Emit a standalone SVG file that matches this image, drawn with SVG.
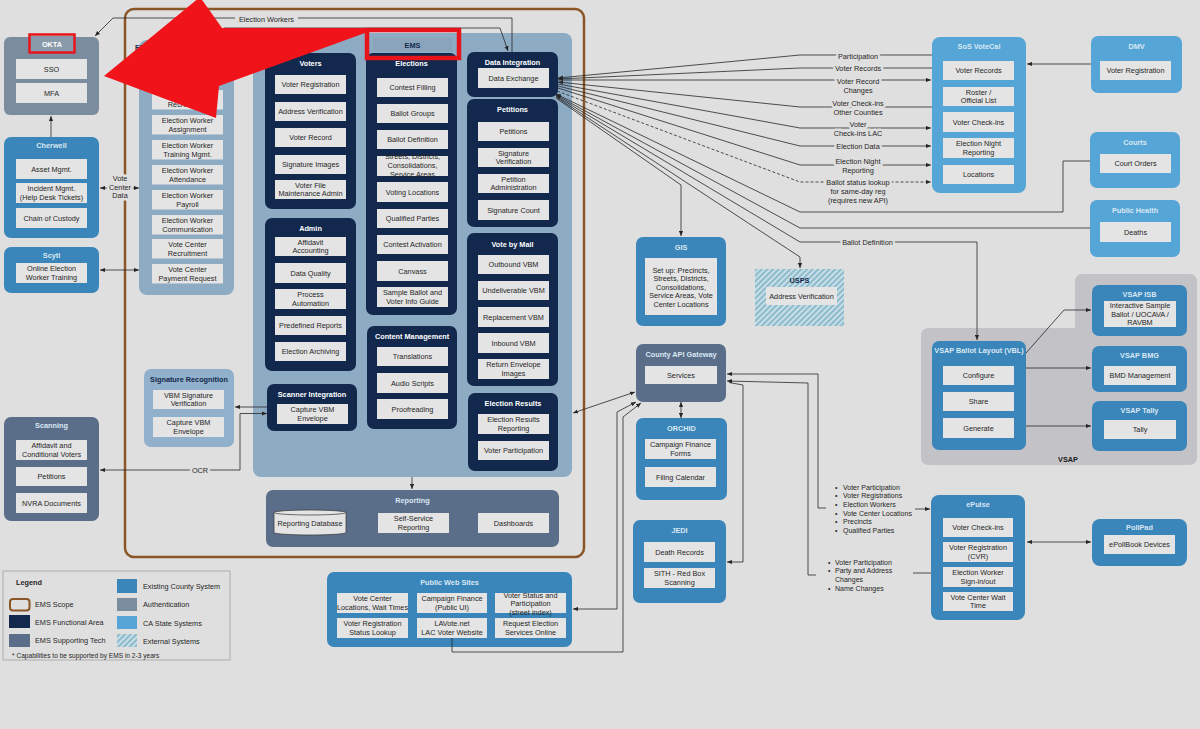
<svg xmlns="http://www.w3.org/2000/svg" width="1200" height="729" viewBox="0 0 1200 729">
<style>
text{font-family:"Liberation Sans",Arial,Helvetica,sans-serif;font-size:7.3px;fill:#262626;text-anchor:middle}
.h{font-weight:bold;fill:#ffffff}
.hl{font-weight:bold;fill:#d9e8f4}
.hd{font-weight:bold;fill:#13294b}
.st{text-anchor:start}
.b{fill:#e4e4e4}
.nv{fill:#12294d}
.cty{fill:#3a85b9}
.ca{fill:#55a5d6}
.au{fill:#7a8c9d}
.sup{fill:#5b6e89}
.ems{fill:#8eabc4}
.ln{stroke:#262626;stroke-width:0.8;fill:none}
.cl{stroke:#dfdfdf;stroke-width:5px;stroke-linejoin:round;paint-order:stroke}
.li{font-size:7px;text-anchor:start}
</style>
<defs>
<marker id="a" viewBox="0 0 6 6" refX="6" refY="3" markerWidth="5" markerHeight="5" orient="auto-start-reverse" markerUnits="userSpaceOnUse"><path d="M0,0.5 L6,3 L0,5.5z" fill="#262626"/></marker>
<pattern id="hatch" width="4" height="4" patternUnits="userSpaceOnUse" patternTransform="rotate(45)"><rect width="4" height="4" fill="#c9dee6"/><line x1="1" y1="0" x2="1" y2="4" stroke="#6aa9bf" stroke-width="1.3"/></pattern>
</defs>
<rect width="1200" height="729" fill="#dfdfdf"/>

<g id="ems-scope"><rect x="125" y="9" width="459" height="548" rx="9" fill="none" stroke="#8a5527" stroke-width="2.5"/></g>

<g id="election-workers">
<rect x="139" y="40" width="95" height="255" rx="8" class="ems"/>
<text x="135" y="50" class="hd st">Election Workers</text>
<rect x="152" y="90" width="71" height="19.5" class="b"/><text x="187.5" y="98">Election Worker<tspan x="187.5" dy="8.7">Recruitment</tspan></text>
<rect x="152" y="115" width="71" height="19.5" class="b"/><text x="187.5" y="123">Election Worker<tspan x="187.5" dy="8.7">Assignment</tspan></text>
<rect x="152" y="140" width="71" height="19.5" class="b"/><text x="187.5" y="148">Election Worker<tspan x="187.5" dy="8.7">Training Mgmt.</tspan></text>
<rect x="152" y="165" width="71" height="19.5" class="b"/><text x="187.5" y="173">Election Worker<tspan x="187.5" dy="8.7">Attendance</tspan></text>
<rect x="152" y="190" width="71" height="19.5" class="b"/><text x="187.5" y="198">Election Worker<tspan x="187.5" dy="8.7">Payroll</tspan></text>
<rect x="152" y="215" width="71" height="19.5" class="b"/><text x="187.5" y="223">Election Worker<tspan x="187.5" dy="8.7">Communication</tspan></text>
<rect x="152" y="239" width="71" height="19.5" class="b"/><text x="187.5" y="247">Vote Center<tspan x="187.5" dy="8.7">Recruitment</tspan></text>
<rect x="152" y="264" width="71" height="19.5" class="b"/><text x="187.5" y="272">Vote Center<tspan x="187.5" dy="8.7">Payment Request</tspan></text>
</g>

<g id="ems">
<rect x="253" y="33" width="319" height="444" rx="8" class="ems"/>
<rect x="373" y="38" width="79" height="13" fill="#8aa4bc"/>
<text x="412.5" y="47.5" class="hd">EMS</text>
</g>

<g id="voters">
<rect x="265" y="53" width="91" height="156" rx="7" class="nv"/>
<text x="310.5" y="65.5" class="h">Voters</text>
<rect x="275" y="75" width="71" height="19" class="b"/><text x="310.5" y="87.1">Voter Registration</text>
<rect x="275" y="102" width="71" height="19" class="b"/><text x="310.5" y="114.1">Address Verification</text>
<rect x="275" y="128" width="71" height="19" class="b"/><text x="310.5" y="140.1">Voter Record</text>
<rect x="275" y="155" width="71" height="19" class="b"/><text x="310.5" y="167.1">Signature Images</text>
<rect x="275" y="180" width="71" height="19" class="b"/><text x="310.5" y="187.8">Voter File<tspan x="310.5" dy="8.6">Maintenance Admin</tspan></text>
</g>

<g id="admin">
<rect x="265" y="218" width="91" height="153" rx="7" class="nv"/>
<text x="310.5" y="231" class="h">Admin</text>
<rect x="275" y="237" width="71" height="19" class="b"/><text x="310.5" y="244.8">Affidavit<tspan x="310.5" dy="8.6">Accounting</tspan></text>
<rect x="275" y="263" width="71" height="20" class="b"/><text x="310.5" y="275.6">Data Quality</text>
<rect x="275" y="289" width="71" height="20" class="b"/><text x="310.5" y="297.3">Process<tspan x="310.5" dy="8.6">Automation</tspan></text>
<rect x="275" y="316" width="71" height="19" class="b"/><text x="310.5" y="328.1">Predefined Reports</text>
<rect x="275" y="342" width="71" height="19" class="b"/><text x="310.5" y="354.1">Election Archiving</text>
</g>

<g id="scanner-integration">
<rect x="267" y="384" width="90" height="47" rx="7" class="nv"/>
<text x="312" y="397" class="h">Scanner Integration</text>
<rect x="277" y="404" width="71" height="20" class="b"/><text x="312.5" y="412.3">Capture VBM<tspan x="312.5" dy="8.6">Envelope</tspan></text>
</g>

<g id="elections">
<rect x="366" y="53" width="91" height="262" rx="7" class="nv"/>
<text x="411.5" y="65.5" class="h">Elections</text>
<rect x="377" y="78" width="71" height="19" class="b"/><text x="412.5" y="90.1">Contest Filling</text>
<rect x="377" y="104" width="71" height="19" class="b"/><text x="412.5" y="116.1">Ballot Groups</text>
<rect x="377" y="130" width="71" height="19" class="b"/><text x="412.5" y="142.1">Ballot Definition</text>
<rect x="377" y="156" width="71" height="20" class="b"/><text x="412.5" y="159.3">Streets, Districts,<tspan x="412.5" dy="9">Consolidations,</tspan><tspan x="412.5" dy="9">Service Areas</tspan></text>
<rect x="377" y="182" width="71" height="20" class="b"/><text x="412.5" y="194.6">Voting Locations</text>
<rect x="377" y="209" width="71" height="19" class="b"/><text x="412.5" y="221.1">Qualified Parties</text>
<rect x="377" y="235" width="71" height="19" class="b"/><text x="412.5" y="247.1">Contest Activation</text>
<rect x="377" y="261" width="71" height="20" class="b"/><text x="412.5" y="273.6">Canvass</text>
<rect x="377" y="287" width="71" height="20" class="b"/><text x="412.5" y="295.3">Sample Ballot and<tspan x="412.5" dy="8.6">Voter Info Guide</tspan></text>
</g>

<g id="content-management">
<rect x="367" y="326" width="90" height="103" rx="7" class="nv"/>
<text x="412" y="338.5" class="h">Content Management</text>
<rect x="377" y="347" width="71" height="19" class="b"/><text x="412.5" y="359.1">Translations</text>
<rect x="377" y="373" width="71" height="20" class="b"/><text x="412.5" y="385.6">Audio Scripts</text>
<rect x="377" y="399" width="71" height="20" class="b"/><text x="412.5" y="411.6">Proofreading</text>
</g>

<g id="data-integration">
<rect x="467" y="52" width="91" height="45" rx="7" class="nv"/>
<text x="512.5" y="64.5" class="h">Data Integration</text>
<rect x="478" y="68" width="71" height="20" class="b"/><text x="513.5" y="80.6">Data Exchange</text>
</g>

<g id="petitions">
<rect x="467" y="99" width="91" height="128" rx="7" class="nv"/>
<text x="512.5" y="111.5" class="h">Petitions</text>
<rect x="478" y="122" width="71" height="19" class="b"/><text x="513.5" y="134.1">Petitions</text>
<rect x="478" y="148" width="71" height="19" class="b"/><text x="513.5" y="155.8">Signature<tspan x="513.5" dy="8.6">Verification</tspan></text>
<rect x="478" y="174" width="71" height="19" class="b"/><text x="513.5" y="181.8">Petition<tspan x="513.5" dy="8.6">Administration</tspan></text>
<rect x="478" y="200" width="71" height="20" class="b"/><text x="513.5" y="212.6">Signature Count</text>
</g>

<g id="vote-by-mail">
<rect x="467" y="233" width="91" height="153" rx="7" class="nv"/>
<text x="512.5" y="246.5" class="h">Vote by Mail</text>
<rect x="478" y="255" width="71" height="19" class="b"/><text x="513.5" y="267.1">Outbound VBM</text>
<rect x="478" y="281" width="71" height="19" class="b"/><text x="513.5" y="293.1">Undeliverable VBM</text>
<rect x="478" y="307" width="71" height="20" class="b"/><text x="513.5" y="319.6">Replacement VBM</text>
<rect x="478" y="333" width="71" height="20" class="b"/><text x="513.5" y="345.6">Inbound VBM</text>
<rect x="478" y="359" width="71" height="20" class="b"/><text x="513.5" y="367.3">Return Envelope<tspan x="513.5" dy="8.6">Images</tspan></text>
</g>

<g id="election-results">
<rect x="468" y="393" width="90" height="78" rx="7" class="nv"/>
<text x="513" y="406" class="h">Election Results</text>
<rect x="478" y="414" width="71" height="20" class="b"/><text x="513.5" y="422.3">Election Results<tspan x="513.5" dy="8.6">Reporting</tspan></text>
<rect x="478" y="441" width="71" height="19" class="b"/><text x="513.5" y="453.1">Voter Participation</text>
</g>

<g id="reporting">
<rect x="266" y="490" width="293" height="57" rx="7" class="sup"/>
<text x="412.5" y="502.5" class="hl">Reporting</text>
<path d="M274,512.5 V532.5 A36,2.5 0 0 0 346,532.5 V512.5 A36,2.5 0 0 0 274,512.5 Z" fill="#e4e4e4" stroke="#333" stroke-width="0.7"/>
<path d="M274,512.5 A36,2.5 0 0 0 346,512.5" fill="none" stroke="#333" stroke-width="0.7"/>
<text x="310" y="526">Reporting Database</text>
<rect x="378" y="513" width="71" height="20" class="b"/><text x="413.5" y="521.3">Self-Service<tspan x="413.5" dy="8.6">Reporting</tspan></text>
<rect x="478" y="513" width="71" height="20" class="b"/><text x="513.5" y="525.6">Dashboards</text>
</g>

<g id="okta">
<rect x="4" y="37" width="95" height="78" rx="6" class="au"/>
<rect x="30" y="36" width="44" height="16" fill="#899bab"/>
<text x="52" y="47" class="h">OKTA</text>
<rect x="16" y="59" width="71" height="20" class="b"/><text x="51.5" y="71.6">SSO</text>
<rect x="16" y="83" width="71" height="20" class="b"/><text x="51.5" y="95.6">MFA</text>
</g>

<g id="cherwell">
<rect x="4" y="137" width="95" height="101" rx="7" class="cty"/>
<text x="51.5" y="148" class="hl">Cherwell</text>
<rect x="16" y="159" width="71" height="20" class="b"/><text x="51.5" y="171.6">Asset Mgmt.</text>
<rect x="16" y="183" width="71" height="20" class="b"/><text x="51.5" y="191.3">Incident Mgmt.<tspan x="51.5" dy="8.6">(Help Desk Tickets)</tspan></text>
<rect x="16" y="208" width="71" height="20" class="b"/><text x="51.5" y="220.6">Chain of Custody</text>
</g>

<g id="scytl">
<rect x="4" y="247" width="95" height="46" rx="7" class="cty"/>
<text x="51.5" y="258" class="hl">Scytl</text>
<rect x="16" y="263" width="71" height="20" class="b"/><text x="51.5" y="271.3">Online Election<tspan x="51.5" dy="8.6">Worker Training</tspan></text>
</g>

<g id="signature-recognition">
<rect x="144" y="369" width="90" height="78" rx="7" fill="#90b0cc"/>
<text x="189" y="381.5" class="hd">Signature Recognition</text>
<rect x="153" y="390" width="71" height="19" class="b"/><text x="188.5" y="397.8">VBM Signature<tspan x="188.5" dy="8.6">Verification</tspan></text>
<rect x="153" y="417" width="71" height="20" class="b"/><text x="188.5" y="425.3">Capture VBM<tspan x="188.5" dy="8.6">Envelope</tspan></text>
</g>

<g id="scanning">
<rect x="4" y="417" width="95" height="104" rx="7" class="sup"/>
<text x="51.5" y="428" class="hl">Scanning</text>
<rect x="16" y="440" width="71" height="20" class="b"/><text x="51.5" y="448.3">Affidavit and<tspan x="51.5" dy="8.6">Conditional Voters</tspan></text>
<rect x="16" y="467" width="71" height="19" class="b"/><text x="51.5" y="479.1">Petitions</text>
<rect x="16" y="493" width="71" height="20" class="b"/><text x="51.5" y="505.6">NVRA Documents</text>
</g>

<g id="legend">
<rect x="3" y="571" width="227" height="89" fill="none" stroke="#a0a0a0" stroke-width="0.8"/>
<text x="16" y="585.3" class="st" style="font-weight:bold">Legend</text>
<rect x="10" y="599" width="19.5" height="11.5" rx="3" fill="none" stroke="#8a5527" stroke-width="2"/>
<text x="35" y="607.3" class="st">EMS Scope</text>
<rect x="9" y="615" width="21" height="13" class="nv"/>
<text x="35" y="624.6" class="st">EMS Functional Area</text>
<rect x="9" y="634" width="21" height="13" class="sup"/>
<text x="35" y="643" class="st">EMS Supporting Tech</text>
<rect x="117" y="579" width="20" height="14" class="cty"/>
<text x="143" y="589.3" class="st">Existing County System</text>
<rect x="117" y="598" width="20" height="13" class="au"/>
<text x="143" y="607.3" class="st">Authentication</text>
<rect x="117" y="616" width="20" height="13" class="ca"/>
<text x="143" y="626.3" class="st">CA State Systems</text>
<rect x="117" y="634" width="20" height="13" fill="url(#hatch)"/>
<text x="143" y="643.6" class="st">External Systems</text>
<text x="12" y="657.5" class="st" style="font-size:6.6px">* Capabilities to be supported by EMS in 2-3 years</text>
</g>

<g id="gis">
<rect x="636" y="237" width="90" height="89" rx="7" class="cty"/>
<text x="681" y="249.5" class="hl">GIS</text>
<rect x="645" y="258" width="72" height="57" class="b"/>
<text x="681" y="272.5">Set up: Precincts,<tspan x="681" dy="8.5">Streets, Districts,</tspan><tspan x="681" dy="8.5">Consolidations,</tspan><tspan x="681" dy="8.5">Service Areas, Vote</tspan><tspan x="681" dy="8.5">Center Locations</tspan></text>
</g>

<g id="usps">
<rect x="755" y="269" width="89" height="57" fill="url(#hatch)"/>
<text x="799.5" y="282.5" class="hd">USPS</text>
<rect x="766" y="287" width="71" height="18" class="b"/><text x="801.5" y="298.6">Address Verification</text>
</g>

<g id="county-api-gateway">
<rect x="636" y="344" width="90" height="58" rx="7" class="sup"/>
<text x="681" y="356.5" class="hl">County API Gateway</text>
<rect x="645" y="366" width="72" height="18" class="b"/><text x="681" y="377.6">Services</text>
</g>

<g id="orchid">
<rect x="636" y="418" width="91" height="82" rx="7" class="cty"/>
<text x="681.5" y="430.5" class="hl">ORCHID</text>
<rect x="645" y="439" width="71" height="20" class="b"/><text x="680.5" y="447.3">Campaign Finance<tspan x="680.5" dy="8.6">Forms</tspan></text>
<rect x="645" y="467" width="71" height="20" class="b"/><text x="680.5" y="479.6">Filing Calendar</text>
</g>

<g id="jedi">
<rect x="633" y="520" width="93" height="83" rx="7" class="cty"/>
<text x="679.5" y="532.5" class="hl">JEDI</text>
<rect x="644" y="542" width="71" height="20" class="b"/><text x="679.5" y="554.6">Death Records</text>
<rect x="644" y="568" width="71" height="20" class="b"/><text x="679.5" y="576.3">SITH - Red Box<tspan x="679.5" dy="8.6">Scanning</tspan></text>
</g>

<g id="public-web-sites">
<rect x="327" y="572" width="245" height="75" rx="7" class="cty"/>
<text x="449.5" y="584.5" class="hl">Public Web Sites</text>
<rect x="337" y="593" width="71" height="20" class="b"/><text x="372.5" y="601.3">Vote Center<tspan x="372.5" dy="8.6">Locations, Wait Times</tspan></text>
<rect x="417" y="593" width="70" height="20" class="b"/><text x="452" y="601.3">Campaign Finance<tspan x="452" dy="8.6">(Public UI)</tspan></text>
<rect x="495" y="593" width="71" height="20" class="b"/><text x="530.5" y="597.6">Voter Status and<tspan x="530.5" dy="8.8">Participation</tspan><tspan x="530.5" dy="8.8">(street index)</tspan></text>
<rect x="337" y="618" width="71" height="20" class="b"/><text x="372.5" y="626.3">Voter Registration<tspan x="372.5" dy="8.6">Status Lookup</tspan></text>
<rect x="417" y="618" width="70" height="20" class="b"/><text x="452" y="626.3">LAVote.net<tspan x="452" dy="8.6">LAC Voter Website</tspan></text>
<rect x="495" y="618" width="71" height="20" class="b"/><text x="530.5" y="626.3">Request Election<tspan x="530.5" dy="8.6">Services Online</tspan></text>
</g>

<g id="sos-votecal">
<rect x="932" y="37" width="94" height="156" rx="8" class="ca"/>
<text x="979" y="48.5" class="hl">SoS VoteCal</text>
<rect x="943" y="61" width="71" height="19" class="b"/><text x="978.5" y="73.1">Voter Records</text>
<rect x="943" y="87" width="71" height="19" class="b"/><text x="978.5" y="94.8">Roster /<tspan x="978.5" dy="8.6">Official List</tspan></text>
<rect x="943" y="112" width="71" height="20" class="b"/><text x="978.5" y="124.6">Voter Check-ins</text>
<rect x="943" y="138" width="71" height="20" class="b"/><text x="978.5" y="146.3">Election Night<tspan x="978.5" dy="8.6">Reporting</tspan></text>
<rect x="943" y="165" width="71" height="19" class="b"/><text x="978.5" y="177.1">Locations</text>
</g>

<g id="dmv">
<rect x="1091" y="36" width="91" height="57" rx="7" class="ca"/>
<text x="1136.5" y="49" class="hl">DMV</text>
<rect x="1100" y="61" width="71" height="19" class="b"/><text x="1135.5" y="73.1">Voter Registration</text>
</g>

<g id="courts">
<rect x="1090" y="132" width="90" height="56" rx="7" class="ca"/>
<text x="1135" y="144.5" class="hl">Courts</text>
<rect x="1100" y="154" width="71" height="19" class="b"/><text x="1135.5" y="166.1">Court Orders</text>
</g>

<g id="public-health">
<rect x="1090" y="200" width="90" height="57" rx="7" class="ca"/>
<text x="1135" y="212.5" class="hl">Public Health</text>
<rect x="1100" y="222" width="71" height="20" class="b"/><text x="1135.5" y="234.6">Deaths</text>
</g>

<g id="vsap">
<path d="M929,328 H1075 V282 Q1075,274 1083,274 H1189 Q1197,274 1197,282 V457 Q1197,465 1189,465 H929 Q921,465 921,457 V336 Q921,328 929,328 Z" fill="#c3c2c7"/>
<text x="1068" y="462" class="hd" style="fill:#1a1a1a">VSAP</text>
</g>

<g id="vsap-vbl">
<rect x="932" y="341" width="94" height="109" rx="7" class="cty"/>
<text x="979" y="353" class="hl">VSAP Ballot Layout (VBL)</text>
<rect x="943" y="366" width="71" height="19" class="b"/><text x="978.5" y="378.1">Configure</text>
<rect x="943" y="392" width="71" height="19" class="b"/><text x="978.5" y="404.1">Share</text>
<rect x="943" y="418" width="71" height="20" class="b"/><text x="978.5" y="430.6">Generate</text>
</g>

<g id="vsap-isb">
<rect x="1092" y="285" width="95" height="51" rx="7" class="cty"/>
<text x="1139.5" y="297" class="hl">VSAP ISB</text>
<rect x="1104" y="301" width="72" height="26" class="b"/>
<text x="1140" y="308">Interactive Sample<tspan x="1140" dy="8.5">Ballot / UOCAVA /</tspan><tspan x="1140" dy="8.5">RAVBM</tspan></text>
</g>

<g id="vsap-bmg">
<rect x="1092" y="346" width="95" height="46" rx="7" class="cty"/>
<text x="1139.5" y="357.5" class="hl">VSAP BMG</text>
<rect x="1104" y="366" width="72" height="19" class="b"/><text x="1140" y="378.1">BMD Management</text>
</g>

<g id="vsap-tally">
<rect x="1092" y="401" width="95" height="50" rx="7" class="cty"/>
<text x="1139.5" y="412.5" class="hl">VSAP Tally</text>
<rect x="1104" y="420" width="72" height="19" class="b"/><text x="1140" y="432.1">Tally</text>
</g>

<g id="epulse">
<rect x="931" y="495" width="94" height="125" rx="8" class="cty"/>
<text x="978" y="507" class="hl">ePulse</text>
<rect x="943" y="518" width="70" height="19" class="b"/><text x="978" y="530.1">Voter Check-ins</text>
<rect x="943" y="542" width="70" height="20" class="b"/><text x="978" y="550.3">Voter Registration<tspan x="978" dy="8.6">(CVR)</tspan></text>
<rect x="943" y="567" width="70" height="20" class="b"/><text x="978" y="575.3">Election Worker<tspan x="978" dy="8.6">Sign-in/out</tspan></text>
<rect x="943" y="592" width="70" height="19" class="b"/><text x="978" y="599.8">Vote Center Wait<tspan x="978" dy="8.6">Time</tspan></text>
</g>

<g id="pollpad">
<rect x="1092" y="519" width="95" height="47" rx="8" class="cty"/>
<text x="1139.5" y="530" class="hl">PollPad</text>
<rect x="1104" y="535" width="71" height="19" class="b"/><text x="1139.5" y="547.1">ePollBook Devices</text>
</g>

<g id="connectors">
<polyline class="ln" points="235,18 113,18 95,36" marker-end="url(#a)"/>
<polyline class="ln" points="298,18 512,18 512,52"/>
<text x="266.5" y="21.6" class="cl">Election Workers</text>
<polyline class="ln" points="224,42 224,28 500,28 508,51" marker-end="url(#a)"/>
<line class="ln" x1="51" y1="137" x2="51" y2="116" marker-end="url(#a)"/>
<line class="ln" x1="107" y1="188" x2="100" y2="188" marker-end="url(#a)"/>
<line class="ln" x1="132" y1="188" x2="139" y2="188" marker-end="url(#a)"/>
<text x="120" y="181" class="cl">Vote<tspan x="120" dy="8.7">Center</tspan><tspan x="120" dy="8.7">Data</tspan></text>
<line class="ln" x1="100" y1="270" x2="139" y2="270" marker-start="url(#a)" marker-end="url(#a)"/>
<line class="ln" x1="267" y1="407" x2="235" y2="407" marker-end="url(#a)"/>
<polyline class="ln" points="267,413.5 240,413.5 240,470 100,470" marker-start="url(#a)" marker-end="url(#a)"/>
<text x="200" y="473" class="cl">OCR</text>
<line class="ln" x1="412" y1="477" x2="412" y2="489" marker-end="url(#a)"/>
<line class="ln" x1="573" y1="413" x2="635" y2="392" marker-start="url(#a)" marker-end="url(#a)"/>

<polyline class="ln" points="558,78 800,55 932,55" marker-start="url(#a)"/>
<polyline class="ln" points="558,79 800,68 932,68" marker-start="url(#a)"/>
<polyline class="ln" points="558,80 800,80 931,80" marker-end="url(#a)"/>
<polyline class="ln" points="558,82 800,107 932,107" marker-start="url(#a)"/>
<polyline class="ln" points="558,84 800,128 931,128" marker-end="url(#a)"/>
<polyline class="ln" points="558,86 800,146 931,146" marker-end="url(#a)"/>
<polyline class="ln" points="558,88 800,165 931,165" marker-end="url(#a)"/>
<polyline class="ln" points="557,91 800,182 931,182" stroke-dasharray="3,2" marker-end="url(#a)"/>
<polyline class="ln" points="556,94 800,212 1063,212 1063,161 1090,161" marker-start="url(#a)"/>
<polyline class="ln" points="556,95 800,228 1090,228" marker-start="url(#a)"/>
<polyline class="ln" points="556,96 800,242 977,242 977,340" marker-end="url(#a)"/>
<polyline class="ln" points="556,97 800,257 800,268" marker-end="url(#a)"/>
<polyline class="ln" points="556,98 681,185 681,236" marker-end="url(#a)"/>
<text x="858" y="58.6" class="cl">Participation</text>
<text x="858" y="70.6" class="cl">Voter Records</text>
<text x="858" y="83.6" class="cl">Voter Record<tspan x="858" dy="9">Changes</tspan></text>
<text x="858" y="105.6" class="cl">Voter Check-ins<tspan x="858" dy="9">Other Counties</tspan></text>
<text x="858" y="126.6" class="cl">Voter<tspan x="858" dy="9">Check-ins LAC</tspan></text>
<text x="858" y="148.6" class="cl">Election Data</text>
<text x="858" y="163.6" class="cl">Election Night<tspan x="858" dy="9">Reporting</tspan></text>
<text x="858" y="184.6" class="cl">Ballot status lookup<tspan x="858" dy="9">for same-day reg</tspan><tspan x="858" dy="9">(requires new API)</tspan></text>
<text x="867.5" y="244.9" class="cl">Ballot Definition</text>

<line class="ln" x1="1091" y1="64" x2="1027" y2="64" marker-end="url(#a)"/>
<polyline class="ln" points="1026,353 1064,310 1091,310" marker-end="url(#a)"/>
<line class="ln" x1="1026" y1="368" x2="1091" y2="368" marker-end="url(#a)"/>
<line class="ln" x1="1026" y1="426" x2="1091" y2="426" marker-end="url(#a)"/>
<line class="ln" x1="1027" y1="542" x2="1091" y2="542" marker-start="url(#a)" marker-end="url(#a)"/>

<polyline class="ln" points="727,374 818,374 818,508 826,508" marker-start="url(#a)"/>
<line class="ln" x1="915" y1="509" x2="930" y2="509" marker-end="url(#a)"/>
<polyline class="ln" points="727,381 808,383 808,575 816,575" marker-start="url(#a)"/>
<line class="ln" x1="913" y1="573" x2="931" y2="573"/>
<polyline class="ln" points="729,382.5 743,385 743,562 727,562" marker-end="url(#a)"/>
<polyline class="ln" points="573,609 617,609 617,412 636,402" marker-start="url(#a)" marker-end="url(#a)"/>
<polyline class="ln" points="452,638 452,652 623,652 623,417 641,403" marker-end="url(#a)"/>
<line class="ln" x1="681" y1="402" x2="681" y2="418" marker-start="url(#a)" marker-end="url(#a)"/>

<text x="835" y="489.5" class="li">•</text><text x="843" y="489.5" class="li">Voter Participation</text>
<text x="835" y="498.2" class="li">•</text><text x="843" y="498.2" class="li">Voter Registrations</text>
<text x="835" y="507" class="li">•</text><text x="843" y="507" class="li">Election Workers</text>
<text x="835" y="515.7" class="li">•</text><text x="843" y="515.7" class="li">Vote Center Locations</text>
<text x="835" y="524.4" class="li">•</text><text x="843" y="524.4" class="li">Precincts</text>
<text x="835" y="533.2" class="li">•</text><text x="843" y="533.2" class="li">Qualified Parties</text>
<text x="828" y="564.5" class="li">•</text><text x="835" y="564.5" class="li">Voter Participation</text>
<text x="828" y="573.3" class="li">•</text><text x="835" y="573.3" class="li">Party and Address</text>
<text x="835" y="582" class="li">Changes</text>
<text x="828" y="590.8" class="li">•</text><text x="835" y="590.8" class="li">Name Changes</text>
</g>

<g id="annotation">
<rect x="367" y="30" width="92" height="28" fill="none" stroke="#e8141b" stroke-width="4.5"/>
<rect x="29.5" y="34.5" width="45" height="18" fill="none" stroke="#e8141b" stroke-width="2.5"/>
<polygon points="104,76 200,-3 222,28 365,28 365,33 219,86 216,118" fill="#f0141a"/>
</g>
</svg>
